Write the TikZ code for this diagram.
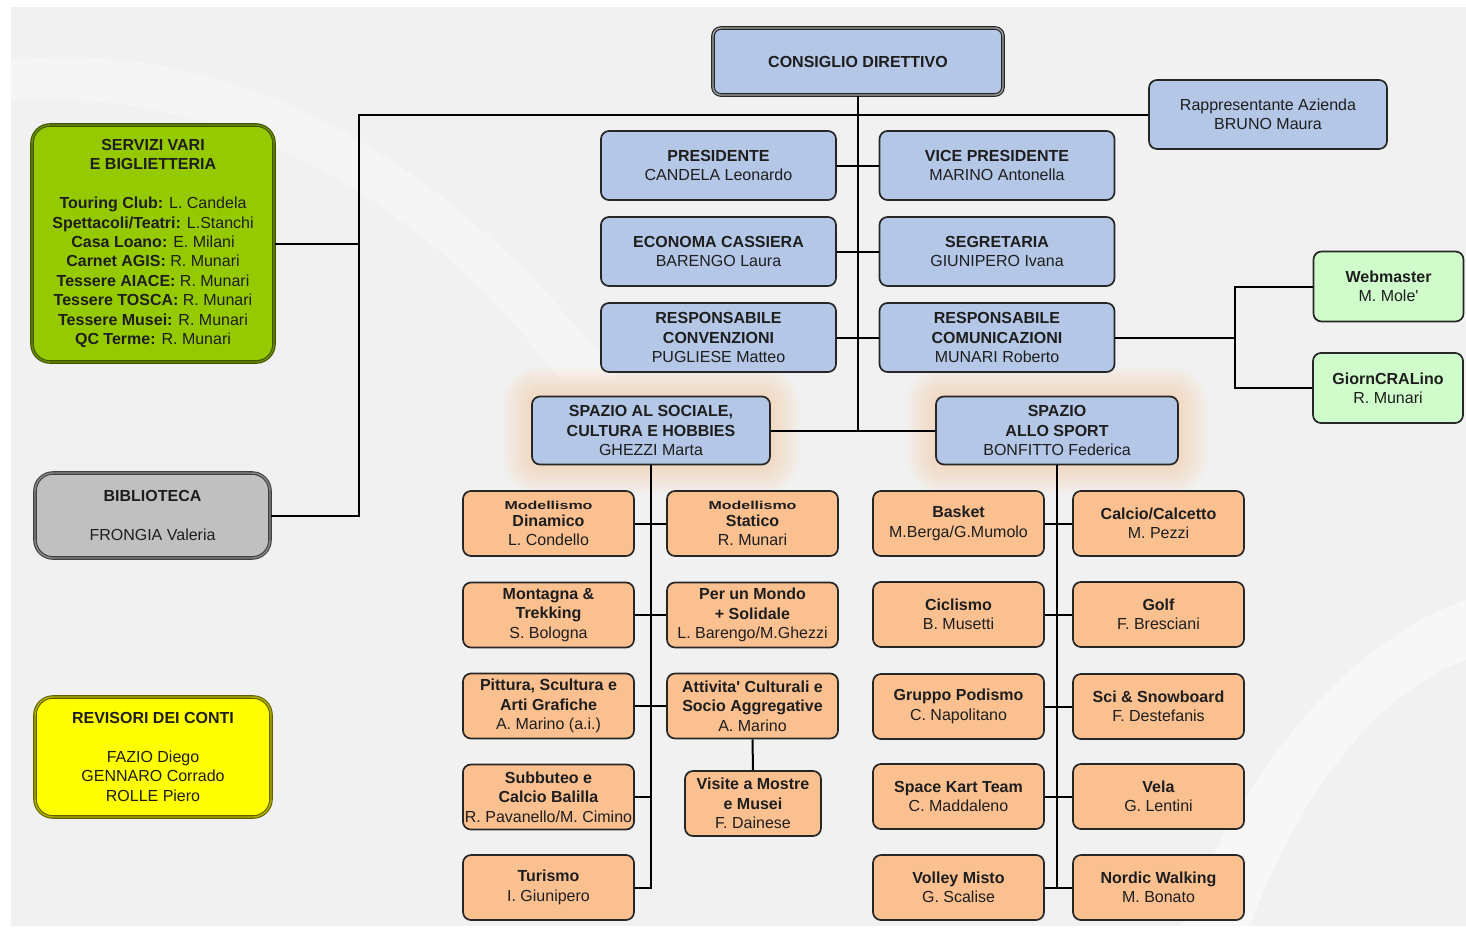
\documentclass[tikz,border=0pt]{standalone}
\usepackage{fontspec}
\setmainfont{Liberation Sans}
\usetikzlibrary{calc}
\definecolor{boxblue}{RGB}{180,199,231}
\definecolor{boxorange}{RGB}{250,192,144}
\definecolor{boxlgreen}{RGB}{208,252,204}
\definecolor{servgreen}{RGB}{150,202,0}
\definecolor{servdark}{RGB}{62,84,0}
\definecolor{bibgrey}{RGB}{192,192,192}
\definecolor{revyellow}{RGB}{255,255,0}
\definecolor{revdark}{RGB}{96,96,0}
\definecolor{bggray}{RGB}{241,241,241}
\definecolor{glowc}{RGB}{250,195,150}
\definecolor{txt}{RGB}{30,30,30}
\pgfdeclarelayer{bgl}
\pgfdeclarelayer{glowl}
\pgfsetlayers{bgl,glowl,main}
\tikzset{
  basebox/.style={draw=black!85, line width=1.7pt, rounded corners=8pt, align=center,
    inner sep=2pt, text=txt, font=\fontsize{16}{19.4}\selectfont},
  bbox/.style={basebox, fill=boxblue, minimum width=235, minimum height=69},
  cbox/.style={basebox, fill=boxblue, minimum width=290, minimum height=67,
    line width=1.2pt, double=black!35, double distance=1.3pt},
  obox/.style={basebox, fill=boxorange, minimum width=171, minimum height=65},
  gbox/.style={basebox, fill=boxlgreen, minimum width=150, minimum height=70},
  leftbox/.style={basebox, rounded corners=18pt, line width=1.1pt, double distance=1.4pt},
  conn/.style={draw=black, line width=2pt}
}
\newcommand{\mys}[1]{\scalebox{1}[0.72]{\textbf{#1}}}
\begin{document}
\begin{tikzpicture}[x=1pt,y=-1pt]
\useasboundingbox (0,0) rectangle (1466,932);
\begin{pgfonlayer}{bgl}
  \fill[white] (0,0) rectangle (1466,932);
  \fill[bggray] (11,7) rectangle (1466,926);
  \fill[white, opacity=0.3] (11,60) .. controls (200,40) and (420,120) .. (620,380) -- (560,380) .. controls (400,170) and (200,90) .. (11,100) -- cycle;
  \fill[white, opacity=0.45] (1466,600) .. controls (1350,640) and (1250,760) .. (1180,926) -- (1250,926) .. controls (1300,790) and (1380,690) .. (1466,660) -- cycle;
\end{pgfonlayer}

% top level
\node[cbox] (cons) at (858,61.5) {\textbf{CONSIGLIO DIRETTIVO}};
\node[bbox, minimum width=238] (rapp) at (1268,114.5) {Rappresentante Azienda\\BRUNO Maura};
\node[bbox] (pres) at (718.5,165.5) {\textbf{PRESIDENTE}\\CANDELA Leonardo};
\node[bbox] (vice) at (997,165.5) {\textbf{VICE PRESIDENTE}\\MARINO Antonella};
\node[bbox] (eco) at (718.5,251.5) {\textbf{ECONOMA CASSIERA}\\BARENGO Laura};
\node[bbox] (seg) at (997,251.5) {\textbf{SEGRETARIA}\\GIUNIPERO Ivana};
\node[bbox] (conv) at (718.5,337.5) {\textbf{RESPONSABILE}\\\textbf{CONVENZIONI}\\PUGLIESE Matteo};
\node[bbox] (comu) at (997,337.5) {\textbf{RESPONSABILE}\\\textbf{COMUNICAZIONI}\\MUNARI Roberto};
\node[gbox] (web) at (1388.5,286.5) {\textbf{Webmaster}\\M. Mole\textquotesingle};
\node[gbox] (gio) at (1388,388) {\textbf{GiornCRALino}\\R. Munari};

% left boxes
\node[leftbox, fill=servgreen, draw=servdark, double=servgreen!70!black, minimum width=242, minimum height=237] (serv) at (153,243.5)
 {\textbf{SERVIZI VARI}\\\textbf{E BIGLIETTERIA}\\[19.4pt]
  \textbf{Touring Club:} L. Candela\\
  \textbf{Spettacoli/Teatri:} L.Stanchi\\
  \textbf{Casa Loano:} E. Milani\\
  \textbf{Carnet AGIS:} R. Munari\\
  \textbf{Tessere AIACE:} R. Munari\\
  \textbf{Tessere TOSCA:} R. Munari\\
  \textbf{Tessere Musei:} R. Munari\\
  \textbf{QC Terme:} R. Munari};
\node[leftbox, fill=bibgrey, draw=black!75, double=bibgrey!70!black, minimum width=235, minimum height=85] (bib) at (152.5,515.5)
 {\textbf{BIBLIOTECA}\\[19.4pt]FRONGIA Valeria};
\node[leftbox, fill=revyellow, draw=revdark, double=revyellow!70!black, minimum width=236, minimum height=120] (rev) at (153,757)
 {\textbf{REVISORI DEI CONTI}\\[19.4pt]FAZIO Diego\\GENNARO Corrado\\ROLLE Piero};

% spazio boxes
\node[bbox, minimum width=238, minimum height=68] (socl) at (651,430.5) {\textbf{SPAZIO AL SOCIALE,}\\\textbf{CULTURA E HOBBIES}\\GHEZZI Marta};
\node[bbox, minimum width=242, minimum height=68] (sport) at (1057,430.5) {\textbf{SPAZIO}\\\textbf{ALLO SPORT}\\BONFITTO Federica};
\begin{pgfonlayer}{glowl}
  \foreach \n in {socl,sport}{
    \foreach \r in {28,24,...,2}{
      \fill[glowc, opacity=0.08, rounded corners=8pt+\r pt]
        ($(\n.south west)+(-\r,\r)$) rectangle ($(\n.north east)+(\r,-\r)$);
    }
  }
\end{pgfonlayer}

% social children
\node[obox] (md) at (548.5,523.5) {\mys{Modellismo}\\[-3pt]\textbf{Dinamico}\\L. Condello};
\node[obox] (ms) at (752.5,523.5) {\mys{Modellismo}\\[-3pt]\textbf{Statico}\\R. Munari};
\node[obox] (mt) at (548.5,615) {\textbf{Montagna \&}\\\textbf{Trekking}\\S. Bologna};
\node[obox] (mo) at (752.5,615) {\textbf{Per un Mondo}\\\textbf{+ Solidale}\\L. Barengo/M.Ghezzi};
\node[obox] (pi) at (548.5,706) {\textbf{Pittura, Scultura e}\\\textbf{Arti Grafiche}\\A. Marino (a.i.)};
\node[obox] (att) at (752.5,706) {\textbf{Attivita\textquotesingle{} Culturali e}\\\textbf{Socio Aggregative}\\A. Marino};
\node[obox] (su) at (548.5,797) {\textbf{Subbuteo e}\\\textbf{Calcio Balilla}\\R. Pavanello/M. Cimino};
\node[obox, minimum width=136] (vi) at (753,803.5) {\textbf{Visite a Mostre}\\\textbf{e Musei}\\F. Dainese};
\node[obox] (tu) at (548.5,887.5) {\textbf{Turismo}\\I. Giunipero};

% sport children
\node[obox] (ba) at (958.5,523.5) {\textbf{Basket}\\M.Berga/G.Mumolo};
\node[obox] (ca) at (1158.5,523.5) {\textbf{Calcio/Calcetto}\\M. Pezzi};
\node[obox] (ci) at (958.5,614.5) {\textbf{Ciclismo}\\B. Musetti};
\node[obox] (go) at (1158.5,614.5) {\textbf{Golf}\\F. Bresciani};
\node[obox] (gp) at (958.5,706.5) {\textbf{Gruppo Podismo}\\C. Napolitano};
\node[obox] (sc) at (1158.5,706.5) {\textbf{Sci \& Snowboard}\\F. Destefanis};
\node[obox] (sk) at (958.5,796.5) {\textbf{Space Kart Team}\\C. Maddaleno};
\node[obox] (ve) at (1158.5,796.5) {\textbf{Vela}\\G. Lentini};
\node[obox] (vo) at (958.5,887.5) {\textbf{Volley Misto}\\G. Scalise};
\node[obox] (no) at (1158.5,887.5) {\textbf{Nordic Walking}\\M. Bonato};

% connectors
\draw[conn] (cons.south) -- (cons.south |- socl.east);
\draw[conn] (socl.east) -- (sport.west);
\draw[conn] (pres.east) -- (vice.west);
\draw[conn] (eco.east) -- (seg.west);
\draw[conn] (conv.east) -- (comu.west);
\coordinate (lb) at (359,114.5);
\draw[conn] (rapp.west) -- (lb) -- (lb |- bib.east) -- (bib.east);
\draw[conn] (serv.east) -- (serv.east -| lb);
\coordinate (rb) at (1235,337.5);
\draw[conn] (comu.east) -- (rb);
\draw[conn] (web.west) -| (rb) |- (gio.west);

\draw[conn] (socl.south) -- (socl.south |- tu.east) -- (tu.east);
\draw[conn] (md.east) -- (ms.west);
\draw[conn] (mt.east) -- (mo.west);
\draw[conn] (pi.east) -- (att.west);
\draw[conn] (su.east) -- (su.east -| socl.south);
\draw[conn] (att.south) -- (vi.north);

\draw[conn] (sport.south) -- (sport.south |- vo.east);
\draw[conn] (ba.east) -- (ca.west);
\draw[conn] (ci.east) -- (go.west);
\draw[conn] (gp.east) -- (sc.west);
\draw[conn] (sk.east) -- (ve.west);
\draw[conn] (vo.east) -- (no.west);
\end{tikzpicture}
\end{document}
